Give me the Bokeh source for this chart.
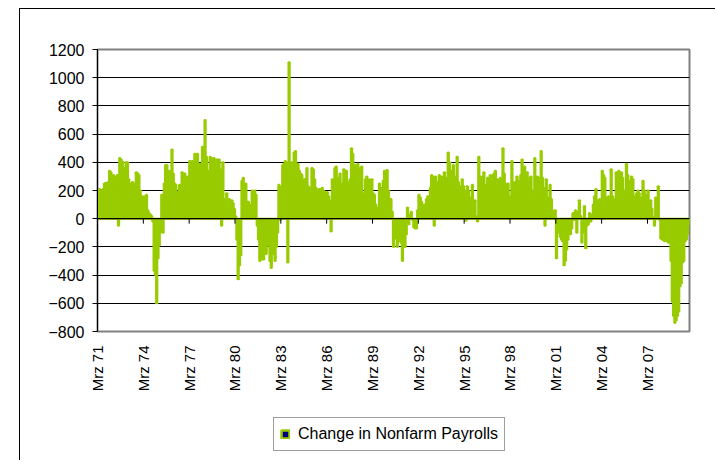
import math
from bokeh.plotting import figure
from bokeh.layouts import column
from bokeh.models import (Range1d, FixedTicker, Legend, LegendItem, Span,
                          ColumnDataSource)
from bokeh.embed import file_html
from bokeh.resources import INLINE

# ---- data: monthly change in nonfarm payrolls (thousands), Mar 1971 - Nov 2009 ----
y1971 = [200, 210, 205, 70, 210, 250, 255, 200, 260, 340]          # Mar-Dec
y1972 = [330, 300, 310, 300, 250, 310, -50, 430, 420, 405, 350, 360]
y1973 = [400, 400, 280, 240, 250, 260, 180, 250, 330, 320, 310, 200]
y1974 = [150, 160, 100, 160, 170, 60, 40, 30, 20, -20, -370, -400]
y1975 = [-600, -280, -190, -100, 170, -100, 250, 380, 380, 320, 340, 200]
y1976 = [490, 320, 250, 240, 190, 60, 240, 190, 330, 100, 320, 240]
y1977 = [300, 260, 410, 400, 410, 400, 460, 340, 460, 390, 380, 390]
y1978 = [510, 350, 700, 440, 270, 340, 440, 430, 290, 430, 410, 420]
y1979 = [420, 420, 350, -50, 400, 140, 120, 180, 130, 140, 60, 130]
y1980 = [110, 70, 20, -150, -430, -330, -260, 270, 290, 220, 250, 120]
y1981 = [120, 100, 50, 200, 20, 200, 170, -50, -150, -300, -200, -290]
y1982 = [-290, -50, -250, -190, -60, -300, -350, -150, -250, -300, -200, -100]
y1983 = [240, -10, 230, 380, 390, 410, 400, -310, 1110, 310, 400, 380]
y1984 = [470, 480, 360, 390, 340, 320, 310, 270, 280, 280, 360, 230]
y1985 = [220, 200, 360, 350, 280, 220, 210, 200, 210, 200, 220, 200]
y1986 = [190, 110, 190, 160, 130, -90, 280, 190, 360, 370, 170, 290]
y1987 = [320, 230, 250, 350, 200, 340, 260, 180, 280, 500, 460, 300]
y1988 = [380, 330, 390, 250, 360, 370, 180, 160, 280, 300, 250, 280]
y1989 = [260, 280, 180, 170, 100, 80, 50, 250, 220, 110, 270, 340]
y1990 = [280, 345, 200, 100, 140, 50, -200, -140, -50, -200, -160, -100]
y1991 = [-170, -300, -200, -200, -110, 80, -40, 30, 50, -10, -60, -70]
y1992 = [-70, 60, 170, 150, 120, 40, 100, 60, 140, 160, 130, 220]
y1993 = [310, 300, -50, 300, 260, 200, 310, 170, 300, 270, 330, 290]
y1994 = [280, 470, 400, 270, 340, 380, 300, 260, 440, 260, 230, 220]
y1995 = [280, 230, 200, -15, 230, 200, 150, 100, 240, 100, 130, 20]
y1996 = [-20, 440, 300, 170, 300, 330, 230, 240, 290, 200, 310, 180]
y1997 = [310, 320, 340, 250, 280, 210, 290, 20, 500, 320, 250, 160]
y1998 = [250, 160, 150, 410, 260, 200, 260, 300, 270, 200, 310, 420]
y1999 = [250, 370, 130, 330, 230, 290, 300, 200, 110, 430, 290, 300]
y2000 = [290, 120, 480, 290, 220, -50, 280, 150, 100, 240, 140, 60]
y2001 = [40, 60, -280, -100, -20, -130, -150, -160, -330, -300, -220, -150]
y2002 = [-100, -110, -70, 40, -10, 60, -100, 50, 130, 20, -170, -100]
y2003 = [90, -210, -50, -40, 40, -20, 30, 100, 160, 210, 130, 110]
y2004 = [140, 50, 340, 310, 290, 150, 100, 160, 150, 350, 160, 140]
y2005 = [130, 330, 140, 340, 170, 330, 290, 200, 120, 390, 310, 160]
y2006 = [270, 300, 280, 160, 140, 180, 200, 180, 90, 150, 270, 200]
y2007 = [160, 170, 200, 100, 130, 70, 10, -50, 150, 60, 230, -10]
y2008 = [-140, -150, -150, -160, -150, -160, -170, -160, -300, -590, -690, -740]
y2009 = [-720, -690, -660, -480, -460, -310, -300, -160, -150, -110, -40]  # Jan-Nov

tick_labels = ["Mrz 71", "Mrz 74", "Mrz 77", "Mrz 80", "Mrz 83", "Mrz 86", "Mrz 89",
               "Mrz 92", "Mrz 95", "Mrz 98", "Mrz 01", "Mrz 04", "Mrz 07"]
label_every = 36
y_ticks = [-800, -600, -400, -200, 0, 200, 400, 600, 800, 1000, 1200]
series_name = "Change in Nonfarm Payrolls"

values = (y1971 + y1972 + y1973 + y1974 + y1975 + y1976 + y1977 + y1978 + y1979 +
          y1980 + y1981 + y1982 + y1983 + y1984 + y1985 + y1986 + y1987 + y1988 +
          y1989 + y1990 + y1991 + y1992 + y1993 + y1994 + y1995 + y1996 + y1997 +
          y1998 + y1999 + y2000 + y2001 + y2002 + y2003 + y2004 + y2005 + y2006 +
          y2007 + y2008 + y2009)
n = len(values)
xs = [i + 0.5 for i in range(n)]
x_ticks = [k * label_every for k in range(len(tick_labels))]

GREEN = "#99CC00"
FONT = "Liberation Sans"

FRAME_H = 282  # px height of plot area
ymin, ymax = y_ticks[0], y_ticks[-1]
tick_len = 5 * (ymax - ymin) / FRAME_H  # 5px tick in data units

p = figure(width=695, height=396, output_backend="svg", toolbar_location=None,
           x_range=Range1d(0, n), y_range=Range1d(ymin, ymax),
           min_border_left=77, min_border_right=26, min_border_top=40,
           min_border_bottom=74, background_fill_color="white",
           border_fill_color="white")

p.outline_line_color = "#808080"
p.outline_line_width = 2

# grid
p.xgrid.visible = False
p.ygrid.ticker = FixedTicker(ticks=y_ticks)
p.ygrid.grid_line_color = "black"
p.ygrid.grid_line_width = 1

# y axis
p.yaxis.ticker = FixedTicker(ticks=y_ticks)
p.yaxis.axis_line_color = "black"
p.yaxis.major_tick_line_color = "black"
p.yaxis.major_tick_out = 5
p.yaxis.major_tick_in = 0
p.yaxis.minor_tick_line_color = None
p.yaxis.major_label_standoff = 8
p.yaxis.major_label_text_font = FONT
p.yaxis.major_label_text_font_size = "16px"
p.yaxis.major_label_text_color = "black"

# bottom category labels
xa = p.xaxis[0]
xa.ticker = FixedTicker(ticks=x_ticks)
xa.major_label_overrides = {t: lab for t, lab in zip(x_ticks, tick_labels)}
xa.axis_line_color = None
xa.major_tick_line_color = None
xa.minor_tick_line_color = None
xa.major_tick_out = 0
xa.major_tick_in = 0
xa.major_label_standoff = 14
xa.major_label_orientation = math.pi / 2
xa.major_label_text_font = FONT
xa.major_label_text_font_size = "15px"
xa.major_label_text_color = "black"

src = ColumnDataSource(data=dict(x=xs, v=values))
p.vbar(x="x", top="v", bottom=0, width=1, source=src,
       fill_color=GREEN, line_color=GREEN, line_width=2)

# category axis line crossing at zero, with its tick marks
p.add_layout(Span(location=0, dimension="width", line_color="black", line_width=1.2))
p.segment(x0=x_ticks, y0=[0] * len(x_ticks), x1=x_ticks,
          y1=[-tick_len] * len(x_ticks), line_color="black", line_width=1)

# ---- legend strip below the chart (frame aligned with the chart's frame) ----
# a one-bar proxy of the series sits hidden behind the legend box
lf = figure(width=695, height=55, output_backend="svg", toolbar_location=None,
            x_axis_location=None, y_axis_location=None,
            x_range=Range1d(-n / 2, n / 2), y_range=Range1d(-1000, 1000),
            min_border_left=0, min_border_right=0, min_border_top=0,
            min_border_bottom=0, outline_line_color=None,
            background_fill_color="white", border_fill_color="white")
lf.xgrid.visible = False
lf.ygrid.visible = False
leg_src = ColumnDataSource(data=dict(x=xs[:1], v=values[:1]))
leg_r = lf.vbar(x="x", top="v", width=1, source=leg_src, fill_color="#000080",
                line_color=GREEN, line_width=2.5)
legend = Legend(items=[LegendItem(label=series_name, renderers=[leg_r])],
                location=(176, 9), orientation="vertical",
                border_line_color="#404040", border_line_width=1.5,
                background_fill_color="white", background_fill_alpha=1,
                label_text_font=FONT, label_text_font_size="16px",
                label_text_color="black", glyph_width=10, glyph_height=10,
                padding=6, spacing=0, margin=0, label_standoff=8, label_height=20)
lf.add_layout(legend, "center")

layout = column(p, lf, spacing=0, margin=(8, 0, 0, 19),
                styles={"border-left": "1px solid #000000",
                        "border-top": "1px solid #000000"})

open("out.html", "w").write(file_html(layout, INLINE))
